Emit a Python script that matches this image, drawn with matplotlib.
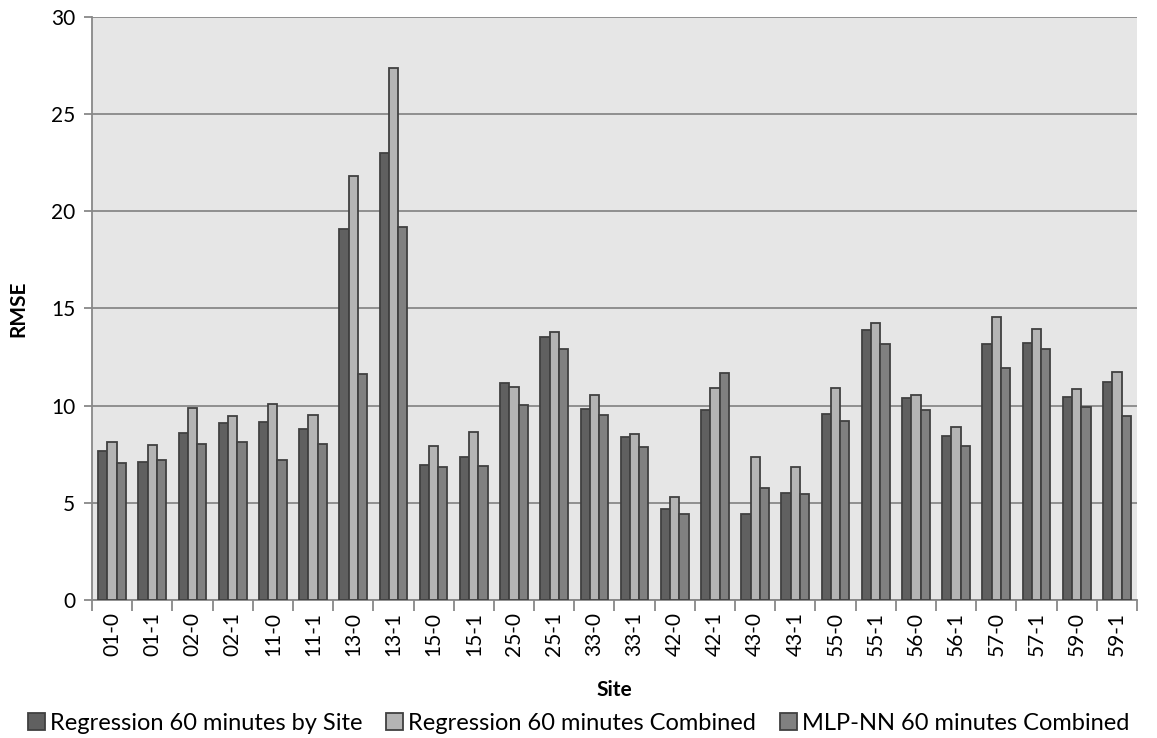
import matplotlib.pyplot as plt
import numpy as np

# -----------------------------
# Data
# -----------------------------
sites = ["01-0", "01-1", "02-0", "02-1", "11-0", "11-1", "13-0", "13-1",
         "15-0", "15-1", "25-0", "25-1", "33-0", "33-1", "42-0", "42-1",
         "43-0", "43-1", "55-0", "55-1", "56-0", "56-1", "57-0", "57-1",
         "59-0", "59-1"]

reg_by_site = [7.65, 7.1, 8.6, 9.1, 9.15, 8.8, 19.1, 23.0,
               6.95, 7.35, 11.15, 13.55, 9.85, 8.4, 4.7, 9.8,
               4.45, 5.5, 9.55, 13.9, 10.4, 8.45, 13.15, 13.2,
               10.45, 11.2]

reg_combined = [8.15, 7.95, 9.9, 9.45, 10.1, 9.5, 21.8, 27.4,
                7.9, 8.65, 10.95, 13.8, 10.55, 8.55, 5.3, 10.9,
                7.35, 6.85, 10.9, 14.25, 10.55, 8.9, 14.55, 13.95,
                10.85, 11.75]

mlp_combined = [7.05, 7.2, 8.05, 8.15, 7.2, 8.05, 11.65, 19.2,
                6.85, 6.9, 10.05, 12.9, 9.5, 7.85, 4.4, 11.7,
                5.75, 5.45, 9.2, 13.15, 9.8, 7.9, 11.95, 12.9,
                9.95, 9.45]

series_names = ["Regression 60 minutes by Site",
                "Regression 60 minutes Combined",
                "MLP-NN 60 minutes Combined"]

# -----------------------------
# Style
# -----------------------------
plt.rcParams['font.family'] = ['Lato', 'DejaVu Sans']
colors = ["#606060", "#b4b4b4", "#808080"]
edge = "#404040"

fig = plt.figure(figsize=(11.57, 7.38), dpi=100)
ax = fig.add_axes([0.0795, 0.187, 0.9032, 0.790])
ax.set_facecolor("#e6e6e6")

x = np.arange(len(sites))
w = 0.23
for i, (vals, c, name) in enumerate(zip([reg_by_site, reg_combined, mlp_combined],
                                         colors, series_names)):
    ax.bar(x + (i - 1) * w, vals, width=w, color=c, edgecolor=edge,
           linewidth=1.3, label=name, zorder=3)

ax.set_xlim(-0.5, len(sites) - 0.5)
ax.set_ylim(0, 30)
ax.set_yticks(range(0, 31, 5))
ax.yaxis.grid(True, color="#888888", linewidth=1.3, zorder=0)

ax.set_xticks(x)
ax.set_xticklabels(sites, rotation=90, fontsize=15)
ax.set_xticks(np.arange(-0.5, len(sites)), minor=True)
ax.tick_params(axis='x', which='major', length=0, pad=9)
ax.tick_params(axis='x', which='minor', length=8, color="#888888", width=1.3)
ax.tick_params(axis='y', labelsize=15, length=6, color="#888888", width=1.3, pad=6)

for s in ["top", "right"]:
    ax.spines[s].set_visible(False)
for s in ["left", "bottom"]:
    ax.spines[s].set_color("#888888")
    ax.spines[s].set_linewidth(1.3)

# axis titles placed to match the reference
ax.set_xlabel("Site", fontsize=15, fontweight="bold", va="center")
ax.xaxis.set_label_coords(0.5, -90 / 583)
ax.set_ylabel("RMSE", fontsize=15, fontweight="bold", va="center")
ax.yaxis.set_label_coords(-74 / 1045, 0.5)

fig.legend(*ax.get_legend_handles_labels(), loc="center",
           bbox_to_anchor=(0.5, 1 - 723 / 738), ncol=3,
           frameon=False, fontsize=17, handlelength=0.72, handleheight=0.72,
           handletextpad=0.22, columnspacing=1.0, borderaxespad=0, borderpad=0)

plt.savefig("out.png", dpi=100)
